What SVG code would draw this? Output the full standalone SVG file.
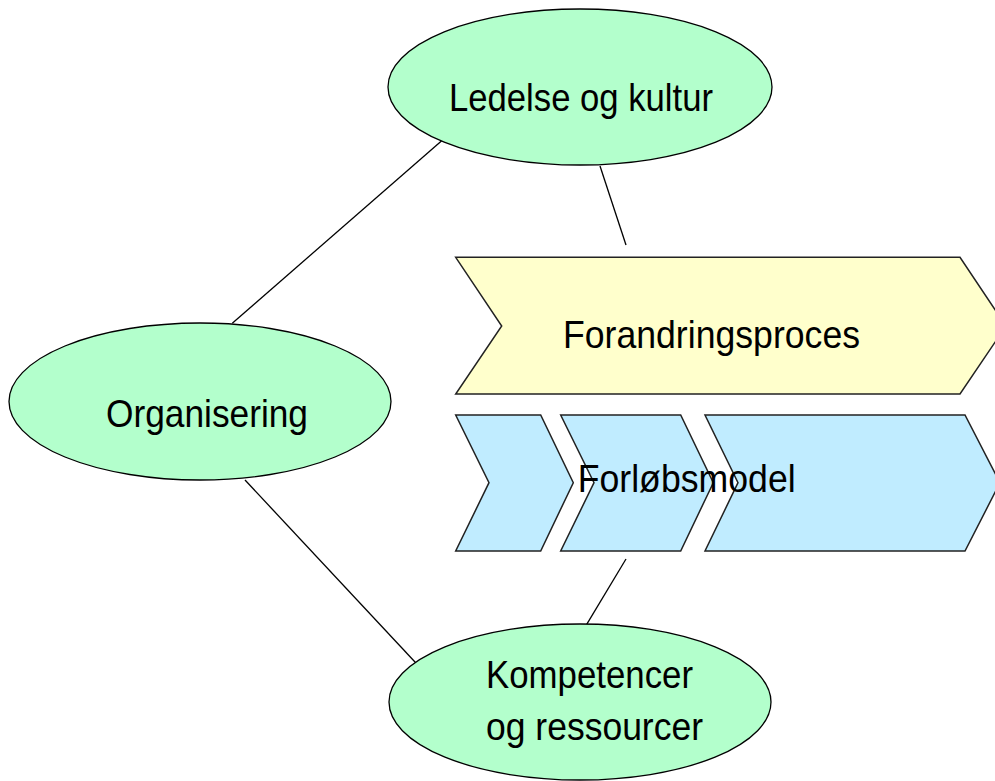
<svg xmlns="http://www.w3.org/2000/svg" width="995" height="781" viewBox="0 0 995 781">
<style>
.ell{fill:#b3ffcc;stroke:#000;stroke-width:1.3}
.yel{fill:#ffffcc;stroke:#222;stroke-width:1.5;stroke-linejoin:miter}
.blu{fill:#c0ecff;stroke:#222;stroke-width:1.5;stroke-linejoin:miter}
.lbl{font-family:"Liberation Sans",Arial,sans-serif;font-size:39.5px;fill:#000}
.con{stroke:#000;stroke-width:1.3;fill:none}
</style>
<rect width="995" height="781" fill="#fff"/>
<g id="connectors">
<line class="con" x1="441.7" y1="140.7" x2="232.3" y2="323.3"/>
<line class="con" x1="600" y1="166" x2="626" y2="245"/>
<line class="con" x1="245" y1="480" x2="415.7" y2="662.7"/>
<line class="con" x1="626" y1="559" x2="586.7" y2="624.3"/>
</g>
<g id="forandringsproces">
<polygon class="yel" points="455.7,257.3 960,257.3 1006,326 960,394 455.7,394 501.7,326"/>
<text class="lbl" x="563" y="348" textLength="297" lengthAdjust="spacingAndGlyphs">Forandringsproces</text>
</g>
<g id="forloebsmodel">
<polygon class="blu" points="455.7,415 540.7,415 573.3,482.7 540.7,551 455.7,551 489,482.7"/>
<polygon class="blu" points="560.7,415 680.7,415 713.3,482.7 680.7,551 560.7,551 594,482.7"/>
<polygon class="blu" points="705,415 965,415 1000,482.7 965,551 705,551 738,482.7"/>
<text class="lbl" x="577.7" y="491.7" textLength="218" lengthAdjust="spacingAndGlyphs">Forløbsmodel</text>
</g>
<g id="ledelse">
<ellipse class="ell" cx="580" cy="87" rx="192" ry="78"/>
<text class="lbl" x="449" y="110.7" textLength="264" lengthAdjust="spacingAndGlyphs">Ledelse og kultur</text>
</g>
<g id="organisering">
<ellipse class="ell" cx="200" cy="401.5" rx="191" ry="78.5"/>
<text class="lbl" x="106" y="426.7" textLength="202" lengthAdjust="spacingAndGlyphs">Organisering</text>
</g>
<g id="kompetencer">
<ellipse class="ell" cx="580" cy="702" rx="191" ry="78"/>
<text class="lbl" x="486" y="688.3" textLength="207" lengthAdjust="spacingAndGlyphs">Kompetencer</text>
<text class="lbl" x="486" y="740" textLength="217" lengthAdjust="spacingAndGlyphs">og ressourcer</text>
</g>
</svg>
